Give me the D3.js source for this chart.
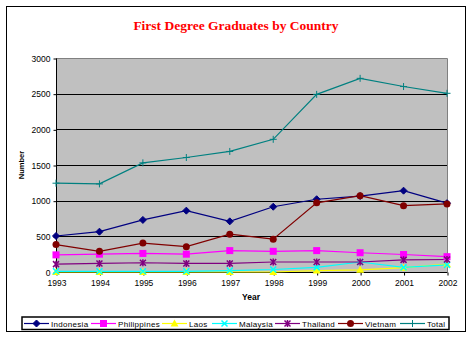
<!DOCTYPE html>
<html>
<head>
<meta charset="utf-8">
<script src="https://cdn.jsdelivr.net/npm/d3@7/dist/d3.min.js"></script>
<style>
  html, body { margin: 0; padding: 0; background: #fff; }
  svg { display: block; }
  text { font-family: Arial, "Liberation Sans", sans-serif; }
</style>
</head>
<body>
<svg id="chart" width="472" height="338"></svg>
<script>
const years = ["1993","1994","1995","1996","1997","1998","1999","2000","2001","2002"];
const indonesia   = [505, 565, 730, 860, 710, 915, 1020, 1065, 1140, 965];
const philippines = [240, 250, 260, 250, 300, 290, 300, 270, 245, 215];
const laos        = [0, 0, 0, 0, 0, 0, 20, 30, 60, 110];
const malaysia    = [10, 10, 10, 10, 20, 35, 65, 140, 65, 100];
const thailand    = [110, 120, 130, 120, 120, 140, 140, 140, 170, 175];
const vietnam     = [385, 290, 405, 355, 530, 460, 970, 1070, 930, 955];
const total       = [1245, 1235, 1530, 1605, 1690, 1860, 2490, 2715, 2600, 2505];
const yTicks = [0, 500, 1000, 1500, 2000, 2500, 3000];

const series = [
  {name: "Indonesia",   values: indonesia,   color: "#000080", marker: "diamond"},
  {name: "Philippines", values: philippines, color: "#FF00FF", marker: "square"},
  {name: "Laos",        values: laos,        color: "#FFFF00", marker: "triangle"},
  {name: "Malaysia",    values: malaysia,    color: "#00FFFF", marker: "x"},
  {name: "Thailand",    values: thailand,    color: "#800080", marker: "star"},
  {name: "Vietnam",     values: vietnam,     color: "#800000", marker: "circle"},
  {name: "Total",       values: total,       color: "#008080", marker: "plus"}
];

const svg = d3.select("#chart");
const L = 56, R = 447, T = 58, B = 272;

// outer border
svg.append("rect").attr("x", 6.5).attr("y", 6.5).attr("width", 459).attr("height", 325)
  .attr("fill", "#fff").attr("stroke", "#000").attr("stroke-width", 1);

// title
svg.append("text").attr("x", 236).attr("y", 30).attr("text-anchor", "middle")
  .attr("font-family", "'Times New Roman', 'Liberation Serif', serif")
  .attr("font-weight", "bold").attr("font-size", 13.5).attr("fill", "#FF0000")
  .style("font-family", "'Times New Roman', 'Liberation Serif', serif")
  .text("First Degree Graduates by Country");

const x = d3.scalePoint().domain(years).range([L, R]).padding(0);
const y = d3.scaleLinear().domain([0, 3000]).range([B, T]);

// plot background
svg.append("rect").attr("x", L).attr("y", T).attr("width", R - L).attr("height", B - T)
  .attr("fill", "#C0C0C0");
// gray top and right border
svg.append("path").attr("d", `M${L},${T + 0.5}H${R + 0.5}V${B}`)
  .attr("fill", "none").attr("stroke", "#808080").attr("stroke-width", 1);

// gridlines
svg.append("g").selectAll("line").data(yTicks.filter(d => d > 0 && d < 3000)).join("line")
  .attr("x1", L).attr("x2", R).attr("y1", d => Math.round(y(d)) + 0.5).attr("y2", d => Math.round(y(d)) + 0.5)
  .attr("stroke", "#000").attr("stroke-width", 1);

// y axis
const yAxis = d3.axisLeft(y).tickValues(yTicks).tickSize(3).tickPadding(3).tickFormat(d3.format("d"));
const gy = svg.append("g").attr("transform", `translate(${L + 0.5},0.5)`).call(yAxis);
gy.selectAll("text").attr("font-size", 8.5).attr("font-family", "Arial, 'Liberation Sans', sans-serif").attr("fill", "#000");
gy.selectAll("line, path").attr("stroke", "#000");
gy.select(".domain").attr("d", `M0,${T}V${B}`);

// x axis
const xAxis = d3.axisBottom(x).tickSize(3).tickPadding(4);
const gx = svg.append("g").attr("transform", `translate(0.5,${B + 0.5})`).call(xAxis);
gx.selectAll("text").attr("font-size", 8.5).attr("font-family", "Arial, 'Liberation Sans', sans-serif").attr("fill", "#000");
gx.selectAll("line, path").attr("stroke", "#000");
gx.select(".domain").attr("d", `M${L},0H${R}`);

// axis titles
svg.append("text").attr("x", 251).attr("y", 300).attr("text-anchor", "middle")
  .attr("font-size", 8.5).attr("font-weight", "bold").text("Year");
svg.append("text").attr("transform", "translate(24,165) rotate(-90)").attr("text-anchor", "middle")
  .attr("font-size", 7.5).attr("font-weight", "bold").text("Number");

function drawMarker(g, type, color, cx, cy) {
  const s = 3.5;
  if (type === "diamond") {
    g.append("path").attr("d", `M${cx},${cy - s}L${cx + s},${cy}L${cx},${cy + s}L${cx - s},${cy}Z`)
      .attr("fill", color).attr("stroke", color);
  } else if (type === "square") {
    g.append("rect").attr("x", cx - 3.5).attr("y", cy - 3.5).attr("width", 7).attr("height", 7)
      .attr("fill", color);
  } else if (type === "triangle") {
    g.append("path").attr("d", `M${cx},${cy - 4}L${cx + 4},${cy + 3}L${cx - 4},${cy + 3}Z`)
      .attr("fill", color);
  } else if (type === "x") {
    g.append("path").attr("d", `M${cx - 3},${cy - 3}L${cx + 3},${cy + 3}M${cx + 3},${cy - 3}L${cx - 3},${cy + 3}`)
      .attr("stroke", color).attr("stroke-width", 1.5);
  } else if (type === "star") {
    g.append("path").attr("d", `M${cx - 3},${cy - 3}L${cx + 3},${cy + 3}M${cx + 3},${cy - 3}L${cx - 3},${cy + 3}M${cx},${cy - 3.5}V${cy + 3.5}`)
      .attr("stroke", color).attr("stroke-width", 1.5);
  } else if (type === "circle") {
    g.append("circle").attr("cx", cx).attr("cy", cy).attr("r", 3.5).attr("fill", color);
  } else if (type === "plus") {
    g.append("path").attr("d", `M${cx - 3.5},${cy}H${cx + 3.5}M${cx},${cy - 3.5}V${cy + 3.5}`)
      .attr("stroke", color).attr("stroke-width", 1);
  }
}

const line = d3.line().x((d, i) => x(years[i])).y(d => y(d));
const gs = svg.append("g");
series.forEach(s => {
  gs.append("path").attr("d", line(s.values)).attr("fill", "none")
    .attr("stroke", s.color).attr("stroke-width", 1.2);
});
series.forEach(s => {
  const g = gs.append("g");
  s.values.forEach((v, i) => drawMarker(g, s.marker, s.color, x(years[i]), y(v)));
});

// legend
svg.append("rect").attr("x", 22).attr("y", 317).attr("width", 427).attr("height", 12.5)
  .attr("fill", "#fff").attr("stroke", "#000").attr("stroke-width", 1.5);
const legX = [24, 91, 162, 212, 275, 338, 400];
const lg = svg.append("g");
series.forEach((s, i) => {
  const lx = legX[i], ly = 323.5;
  lg.append("line").attr("x1", lx).attr("x2", lx + 25).attr("y1", ly).attr("y2", ly)
    .attr("stroke", s.color).attr("stroke-width", 1.2);
  drawMarker(lg, s.marker, s.color, lx + 12.5, ly);
  lg.append("text").attr("x", lx + 27).attr("y", ly + 3).attr("font-size", 8)
    .attr("letter-spacing", 0.3).text(s.name);
});
</script>
</body>
</html>
